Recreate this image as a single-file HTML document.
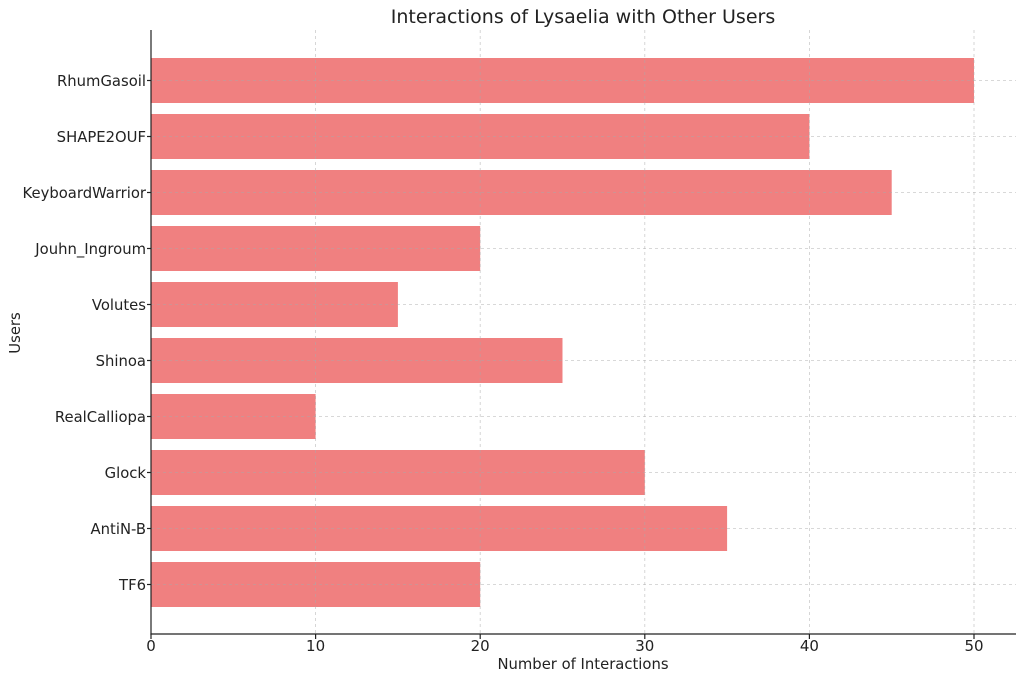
<!DOCTYPE html>
<html><head><meta charset="utf-8"><style>body{margin:0;background:#fff}svg{display:block}text{font-family:"DejaVu Sans","Liberation Sans",sans-serif;fill:#222}</style></head>
<body>
<svg width="1024" height="681" viewBox="0 0 1024 681" xmlns="http://www.w3.org/2000/svg">
<text x="583" y="23" font-size="19" text-anchor="middle">Interactions of Lysaelia with Other Users</text>
<g fill="#F08080">
<rect x="151" y="58" width="823" height="45"/>
<rect x="151" y="114" width="658.4" height="45"/>
<rect x="151" y="170" width="740.7" height="45"/>
<rect x="151" y="226" width="329.2" height="45"/>
<rect x="151" y="282" width="246.9" height="45"/>
<rect x="151" y="338" width="411.5" height="45"/>
<rect x="151" y="394" width="164.6" height="45"/>
<rect x="151" y="450" width="493.8" height="45"/>
<rect x="151" y="506" width="576.1" height="45"/>
<rect x="151" y="562" width="329.2" height="45"/>
</g>
<g stroke="#aaa" stroke-opacity="0.6" stroke-dasharray="3,3" stroke-width="0.8">
<line x1="315.6" y1="30" x2="315.6" y2="634"/><line x1="480.2" y1="30" x2="480.2" y2="634"/><line x1="644.8" y1="30" x2="644.8" y2="634"/><line x1="809.4" y1="30" x2="809.4" y2="634"/><line x1="974" y1="30" x2="974" y2="634"/>
<line x1="151" y1="80.5" x2="1016" y2="80.5"/><line x1="151" y1="136.5" x2="1016" y2="136.5"/><line x1="151" y1="192.5" x2="1016" y2="192.5"/><line x1="151" y1="248.5" x2="1016" y2="248.5"/><line x1="151" y1="304.5" x2="1016" y2="304.5"/><line x1="151" y1="360.5" x2="1016" y2="360.5"/><line x1="151" y1="416.5" x2="1016" y2="416.5"/><line x1="151" y1="472.5" x2="1016" y2="472.5"/><line x1="151" y1="528.5" x2="1016" y2="528.5"/><line x1="151" y1="584.5" x2="1016" y2="584.5"/>
</g>
<g stroke="#222" stroke-width="1.2">
<line x1="151" y1="30" x2="151" y2="634.5"/><line x1="150.4" y1="634" x2="1016" y2="634"/>
<line x1="151" y1="634" x2="151" y2="639"/><line x1="315.6" y1="634" x2="315.6" y2="639"/><line x1="480.2" y1="634" x2="480.2" y2="639"/><line x1="644.8" y1="634" x2="644.8" y2="639"/><line x1="809.4" y1="634" x2="809.4" y2="639"/><line x1="974" y1="634" x2="974" y2="639"/>
<line x1="147" y1="80.5" x2="151" y2="80.5"/><line x1="147" y1="136.5" x2="151" y2="136.5"/><line x1="147" y1="192.5" x2="151" y2="192.5"/><line x1="147" y1="248.5" x2="151" y2="248.5"/><line x1="147" y1="304.5" x2="151" y2="304.5"/><line x1="147" y1="360.5" x2="151" y2="360.5"/><line x1="147" y1="416.5" x2="151" y2="416.5"/><line x1="147" y1="472.5" x2="151" y2="472.5"/><line x1="147" y1="528.5" x2="151" y2="528.5"/><line x1="147" y1="584.5" x2="151" y2="584.5"/>
</g>
<g font-size="15" text-anchor="middle">
<text x="151" y="651">0</text><text x="315.6" y="651">10</text><text x="480.2" y="651">20</text><text x="644.8" y="651">30</text><text x="809.4" y="651">40</text><text x="974" y="651">50</text>
</g>
<g font-size="14.8" text-anchor="end">
<text x="146" y="86">RhumGasoil</text><text x="146" y="142">SHAPE2OUF</text><text x="146" y="198">KeyboardWarrior</text><text x="146" y="254">Jouhn_Ingroum</text><text x="146" y="310">Volutes</text><text x="146" y="366">Shinoa</text><text x="146" y="422">RealCalliopa</text><text x="146" y="478">Glock</text><text x="146" y="534">AntiN-B</text><text x="146" y="590">TF6</text>
</g>
<text x="583" y="669" font-size="14.8" text-anchor="middle">Number of Interactions</text>
<text x="20" y="333" font-size="14.8" text-anchor="middle" transform="rotate(-90 20 333)">Users</text>
</svg>
</body></html>
